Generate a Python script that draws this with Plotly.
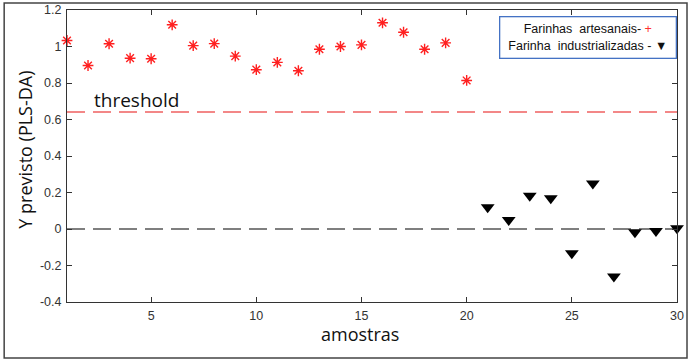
import plotly.graph_objects as go

art_x = list(range(1, 21))
art_y = [1.033, 0.896, 1.015, 0.936, 0.933, 1.119, 1.005, 1.016, 0.947, 0.873,
         0.913, 0.867, 0.985, 1.000, 1.009, 1.130, 1.078, 0.985, 1.020, 0.814]
ind_x = list(range(21, 31))
ind_y = [0.119, 0.049, 0.182, 0.168, -0.133, 0.250, -0.260, -0.018, -0.011, 0.004]
threshold = 0.641
x_ticks = [5, 10, 15, 20, 25, 30]
y_ticks = [-0.4, -0.2, 0, 0.2, 0.4, 0.6, 0.8, 1.0, 1.2]
y_ticktext = ["-0.4", "-0.2", "0", "0.2", "0.4", "0.6", "0.8", "1", "1.2"]

fig = go.Figure()
fig.add_trace(go.Scatter(x=[1, 30], y=[threshold, threshold], mode="lines",
                         line=dict(color="#f06060", width=1.5, dash="18px,8px"),
                         showlegend=False, hoverinfo="skip"))
fig.add_trace(go.Scatter(x=[1, 30], y=[0, 0], mode="lines",
                         line=dict(color="#555555", width=1.3, dash="18px,8px"),
                         showlegend=False, hoverinfo="skip"))
fig.add_trace(go.Scatter(x=art_x, y=art_y, mode="markers", cliponaxis=False,
                         marker=dict(symbol="asterisk-open", size=9, color="#ff2020",
                                     line=dict(color="#ff2020", width=1.4)),
                         showlegend=False))
fig.add_trace(go.Scatter(x=ind_x, y=ind_y, mode="markers", cliponaxis=False,
                         marker=dict(symbol="triangle-down", size=12, color="black",
                                     line=dict(width=0)),
                         showlegend=False))

axis_common = dict(showline=True, linecolor="#333333", linewidth=1, mirror="ticks",
                   ticks="inside", ticklen=5, tickcolor="#333333", showgrid=False,
                   zeroline=False, automargin=False,
                   tickfont=dict(family="Arial", size=12.5, color="#333333"))
fig.update_xaxes(range=[1, 30], tickvals=x_ticks, ticklabelstandoff=2, **axis_common)
fig.update_yaxes(range=[-0.4, 1.2], tickvals=y_ticks, ticktext=y_ticktext,
                 ticklabelstandoff=2, **axis_common)

fig.add_annotation(x=0.48, y=-0.11, xref="paper", yref="paper", text="amostras",
                   showarrow=False, xanchor="center", yanchor="middle",
                   font=dict(family="Open Sans", size=18, color="#111111"))
fig.add_annotation(x=-0.068, y=0.52, xref="paper", yref="paper", text="Y previsto (PLS-DA)",
                   showarrow=False, xanchor="center", yanchor="middle", textangle=-90,
                   font=dict(family="Open Sans", size=18, color="#111111"))
fig.add_annotation(x=2.2, y=threshold, xref="x", yref="y", text="threshold",
                   showarrow=False, xanchor="left", yanchor="bottom", yshift=-3,
                   font=dict(family="Open Sans", size=19, color="#111111"))
fig.add_annotation(x=1.0, y=0.979, xref="paper", yref="paper",
                   text="Farinhas  artesanais- <span style='color:#ff3030'>+</span><br>Farinha  industrializadas - ▼",
                   showarrow=False, xanchor="right", yanchor="top", align="center",
                   width=165, bordercolor="#4472c4", borderwidth=1.3, borderpad=5,
                   bgcolor="white",
                   font=dict(family="Arial", size=12.5, color="#111111"))
fig.add_shape(type="rect", xref="paper", yref="paper", x0=-0.103, x1=1.0164, y0=-0.192, y1=1.024,
              line=dict(color="#444444", width=1.5), fillcolor="rgba(0,0,0,0)")

fig.update_layout(width=694, height=364, margin=dict(l=67, r=17, t=10, b=62, autoexpand=False),
                  plot_bgcolor="white", paper_bgcolor="white")
fig.write_html("out.html", config={"displayModeBar": False},
               post_script="document.body.style.margin='0';")
